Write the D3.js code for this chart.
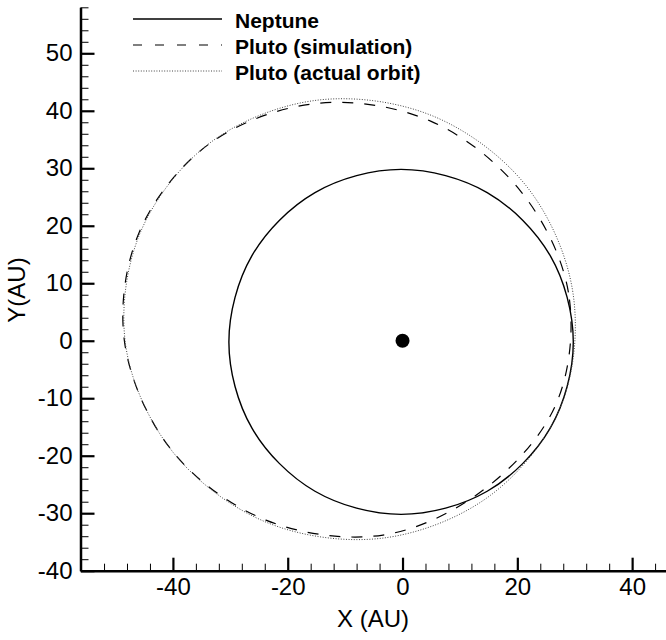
<!DOCTYPE html>
<html>
<head>
<meta charset="utf-8">
<script src="https://cdn.jsdelivr.net/npm/d3@7"></script>
<style>
  body { margin: 0; background: #fff; }
  svg text { font-family: "Liberation Sans", Arial, Helvetica, sans-serif; fill: #000; }
</style>
</head>
<body>
<div id="chart"></div>
<script>
// orbit points in AU
const neptune = [
  [29.75, -0.2], [25.73, 14.8], [14.75, 25.78], [-0.25, 29.8],
  [-15.25, 25.78], [-26.23, 14.8], [-30.25, -0.2], [-26.23, -15.2],
  [-15.25, -26.18], [-0.25, -30.2], [14.75, -26.18], [25.73, -15.2]
];
const plutoSim = [
  [26.8, -10.9], [28.9, 8.4], [20.6, 26.0], [4.9, 38.2],
  [-14.8, 41.3], [-33.6, 34.3], [-45.9, 18.8], [-48.4, -0.4],
  [-40.1, -19.2], [-23.8, -31.2], [-3.4, -33.8], [14.3, -25.8]
];
const plutoActual = [
  [27.6, -11.3], [29.66, 8.52], [21.57, 26.91], [5.24, 39.11],
  [-14.97, 41.83], [-33.62, 34.36], [-45.74, 18.67], [-48.2, -1.0],
  [-39.97, -19.41], [-23.64, -31.61], [-3.43, -34.33], [15.3, -26.9]
];
const sun = [[0, 0]];

const legendNames = ["Neptune", "Pluto (simulation)", "Pluto (actual orbit)"];
const xMajor = [-40, -20, 0, 20, 40];
const yMajor = [-40, -30, -20, -10, 0, 10, 20, 30, 40, 50];
const xMinor = d3.range(-52, 46, 4).filter(v => !xMajor.includes(v));
const yMinor = d3.range(-38, 59, 2).filter(v => !yMajor.includes(v));

const width = 666, height = 640;
const svg = d3.select("#chart").append("svg")
  .attr("width", width).attr("height", height);

const x = d3.scaleLinear().domain([-56.1, 45.9]).range([80.5, 666]);
const y = d3.scaleLinear().domain([-40, 58]).range([570.7, 7.3]);

const styles = [
  { data: neptune, dash: null, color: "#000", w: 1.4 },
  { data: plutoSim, dash: "11,11", color: "#000", w: 1.2 },
  { data: plutoActual, dash: "1,1.6", color: "#444", w: 1 }
];

const line = d3.line()
  .x(d => x(d[0]))
  .y(d => y(d[1]))
  .curve(d3.curveCatmullRomClosed.alpha(0.5));

svg.append("g").selectAll("path")
  .data(styles).enter()
  .append("path")
  .attr("d", d => line(d.data))
  .attr("fill", "none")
  .attr("stroke", d => d.color)
  .attr("stroke-width", d => d.w)
  .attr("stroke-dasharray", d => d.dash);

// sun
svg.append("g").selectAll("circle")
  .data(sun).enter()
  .append("circle")
  .attr("cx", d => x(d[0]))
  .attr("cy", d => y(d[1]))
  .attr("r", 7)
  .attr("fill", "#000");

// minor ticks (inside)
svg.append("g")
  .attr("transform", "translate(0," + y(-40) + ")")
  .call(d3.axisBottom(x).tickValues(xMinor).tickSize(-7).tickFormat(""))
  .call(g => g.select(".domain").remove())
  .call(g => g.selectAll("line").attr("stroke-width", 1));
svg.append("g")
  .attr("transform", "translate(" + x(-56.1) + ",0)")
  .call(d3.axisLeft(y).tickValues(yMinor).tickSize(-8).tickFormat(""))
  .call(g => g.select(".domain").remove())
  .call(g => g.selectAll("line").attr("stroke-width", 1));

// major ticks + labels (plain hyphen minus like the original)
const fmt = d => String(d);
svg.append("g")
  .attr("transform", "translate(0," + y(-40) + ")")
  .call(d3.axisBottom(x).tickValues(xMajor).tickSize(-13).tickSizeOuter(0).tickPadding(7).tickFormat(fmt))
  .call(g => g.select(".domain").attr("stroke-width", 2.5))
  .call(g => g.selectAll("line").attr("stroke-width", 2.2))
  .call(g => g.selectAll("text").attr("font-size", 24).attr("font-family", null));
svg.append("g")
  .attr("transform", "translate(" + x(-56.1) + ",0)")
  .call(d3.axisLeft(y).tickValues(yMajor).tickSize(-14).tickSizeOuter(0).tickPadding(8).tickFormat(fmt))
  .call(g => g.select(".domain").attr("stroke-width", 2.5))
  .call(g => g.selectAll("line").attr("stroke-width", 2.2))
  .call(g => g.selectAll("text").attr("font-size", 24).attr("font-family", null));

// axis titles
svg.append("text")
  .attr("x", 373).attr("y", 627)
  .attr("text-anchor", "middle")
  .attr("font-size", 24)
  .text("X (AU)");
svg.append("text")
  .attr("transform", "translate(25,290) rotate(-90)")
  .attr("text-anchor", "middle")
  .attr("font-size", 24)
  .text("Y(AU)");

// legend
const legend = svg.append("g").selectAll("g")
  .data(styles).enter()
  .append("g")
  .attr("transform", (d, i) => "translate(133," + (19 + i * 26) + ")");
legend.append("line")
  .attr("x1", 0).attr("x2", 89)
  .attr("stroke", d => d.color)
  .attr("stroke-width", d => d.w)
  .attr("stroke-dasharray", d => d.dash === "11,11" ? "9,13" : d.dash);
legend.append("text")
  .attr("x", 102).attr("y", 9)
  .attr("font-size", 21)
  .attr("font-weight", "bold")
  .text((d, i) => legendNames[i]);
</script>
</body>
</html>
